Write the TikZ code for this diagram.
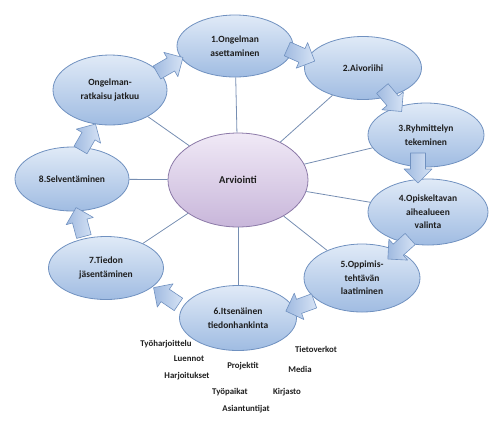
\documentclass[tikz,border=0pt]{standalone}
\usepackage{fontspec}
\setmainfont{Carlito}
\usetikzlibrary{shapes.geometric}
\definecolor{elltop}{RGB}{224,234,247}
\definecolor{ellbot}{RGB}{160,188,226}
\definecolor{elldraw}{RGB}{112,145,192}
\definecolor{ctop}{RGB}{240,233,246}
\definecolor{cbot}{RGB}{200,182,218}
\definecolor{cdraw}{RGB}{140,122,168}
\definecolor{linkc}{RGB}{118,142,178}
\definecolor{atop}{RGB}{214,227,245}
\definecolor{abot}{RGB}{160,186,224}
\definecolor{txt}{RGB}{30,30,30}
\begin{document}
\begin{tikzpicture}[x=1pt,y=-1pt,
  ell/.style={ellipse,draw=elldraw,line width=0.8pt,top color=elltop,bottom color=ellbot,
    inner sep=1pt,align=center,font=\bfseries\fontsize{9.5}{13.5}\selectfont,text=txt},
  cell/.style={ell,draw=cdraw,top color=ctop,bottom color=cbot},
  link/.style={draw=linkc,line width=0.8pt},
  blockarrow/.pic={
    \path[draw=elldraw,line width=0.6pt,left color=abot,right color=atop,line join=round]
      (-15,-7.5) -- (1,-7.5) -- (1,-14) -- (15,0) -- (1,14) -- (1,7.5) -- (-15,7.5) -- cycle;},
  item/.style={font=\bfseries\fontsize{8.8}{10}\selectfont,text=txt,inner sep=0pt}]
\useasboundingbox (0,0) rectangle (495,424);

\node[cell,minimum width=140pt,minimum height=94pt,font=\bfseries\fontsize{10.5}{13}\selectfont] (c) at (238,180) {Arviointi};
\node[ell,minimum width=116pt,minimum height=62pt] (n1) at (235,46) {1.Ongelman\\asettaminen};
\node[ell,minimum width=117pt,minimum height=63pt] (n2) at (363,68) {2.Aivoriihi};
\node[ell,minimum width=116pt,minimum height=64pt] (n3) at (426,135) {3.Ryhmittelyn\\tekeminen};
\node[ell,minimum width=120pt,minimum height=66pt] (n4) at (428,212) {4.Opiskeltavan\\aihealueen\\valinta};
\node[ell,minimum width=116pt,minimum height=68pt] (n5) at (362,278) {5.Oppimis-\\tehtävän\\laatiminen};
\node[ell,minimum width=117pt,minimum height=65pt] (n6) at (238,318) {6.Itsenäinen\\tiedonhankinta};
\node[ell,minimum width=115pt,minimum height=63pt] (n7) at (106,268) {7.Tiedon\\jäsentäminen};
\node[ell,minimum width=114pt,minimum height=64pt] (n8) at (72,179) {8.Selventäminen};
\node[ell,minimum width=114pt,minimum height=70pt] (n9) at (110,90) {Ongelman-\\ratkaisu jatkuu};

\foreach \n in {n1,n2,n3,n4,n5,n6,n7,n8,n9} \draw[link] (c) -- (\n);

\pic[rotate=30]   (a1) at (170,65)  {blockarrow};
\pic[rotate=-24]  (a2) at (301,55)  {blockarrow};
\pic[rotate=-50]  (a3) at (392,100) {blockarrow};
\pic[rotate=-90]  (a4) at (418,168) {blockarrow};
\pic[rotate=-138] (a5) at (399,249) {blockarrow};
\pic[rotate=-160] (a6) at (300,306) {blockarrow};
\pic[rotate=146]  (a7) at (166,296) {blockarrow};
\pic[rotate=105]  (a8) at (80,222)  {blockarrow};
\pic[rotate=60]   (a9) at (88,137)  {blockarrow};

\node[item] (t1) at (166,344) {Työharjoittelu};
\node[item] (t2) at (189,359) {Luennot};
\node[item] (t3) at (187,376) {Harjoitukset};
\node[item] (t4) at (243,366) {Projektit};
\node[item] (t5) at (230,392) {Työpaikat};
\node[item] (t6) at (246,409) {Asiantuntijat};
\node[item] (t7) at (316,349) {Tietoverkot};
\node[item] (t8) at (300,369) {Media};
\node[item] (t9) at (287,392) {Kirjasto};
\end{tikzpicture}
\end{document}
